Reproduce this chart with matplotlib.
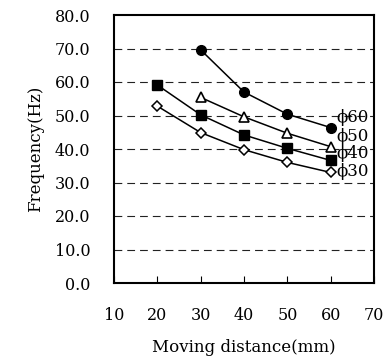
import numpy as np
import matplotlib
matplotlib.use("Agg")
import matplotlib.pyplot as plt

plt.rcParams['font.family'] = ['DejaVu Serif']

x_ticks = [10, 20, 30, 40, 50, 60, 70]
y_ticks = [0, 10, 20, 30, 40, 50, 60, 70, 80]

x60 = [30, 40, 50, 60]
f60 = [69.6, 57.0, 50.4, 46.4]
x50 = [30, 40, 50, 60]
f50 = [55.4, 49.6, 44.7, 40.7]
x40 = [20, 30, 40, 50, 60]
f40 = [59.1, 50.2, 44.2, 40.2, 36.6]
x30 = [20, 30, 40, 50, 60]
f30 = [52.8, 44.9, 39.8, 36.0, 33.0]

labels = ["\u03d560", "\u03d550", "\u03d540", "\u03d530"]
label_y = [49.3, 43.7, 38.8, 33.3]

fig = plt.figure(figsize=(3.89, 3.62), dpi=100)
ax = fig.add_axes([114 / 389, 1 - 283 / 362, 260 / 389, 268 / 362])

for yv in y_ticks[1:-1]:
    ax.axhline(yv, color='#222222', lw=0.8, ls=(0, (7, 4.5)), zorder=1)

ax.plot(x60, f60, '-o', color='black', mfc='black', ms=7, lw=1.1, zorder=3)
ax.plot(x50, f50, '-^', color='black', mfc='white', ms=7.5, mew=1.2, lw=1.1, zorder=3)
ax.plot(x40, f40, '-s', color='black', mfc='black', ms=7, lw=1.1, zorder=3)
ax.plot(x30, f30, '-D', color='black', mfc='white', ms=5.5, mew=1.1, lw=1.1, zorder=3)

for lab, yv in zip(labels, label_y):
    ax.text(61.3, yv, lab, fontsize=12, ha='left', va='center', zorder=4)

ax.set_xlim(10, 70)
ax.set_ylim(0, 80)
ax.set_xticks(x_ticks)
ax.set_yticks(y_ticks)
ax.set_xticklabels([str(v) for v in x_ticks], fontsize=11.5)
ax.set_yticklabels([f"{v:.1f}" for v in y_ticks], fontsize=11.5)
ax.tick_params(axis='x', direction='in', length=5, pad=17)
ax.tick_params(axis='y', direction='in', length=0, pad=17)
for s in ax.spines.values():
    s.set_linewidth(1.5)

ax.set_xlabel("Moving distance(mm)", fontsize=12, labelpad=11)
ax.set_ylabel("Frequency(Hz)", fontsize=12, labelpad=8)

fig.savefig("out.png", dpi=100)
